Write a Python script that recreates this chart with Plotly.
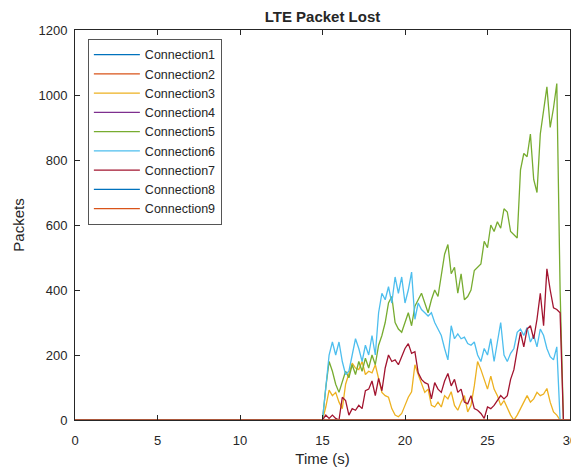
import plotly.graph_objects as go

# time axis: 0 .. 30 s, 0.2 s step
time_s = [round(i * 0.2, 1) for i in range(151)]

# first 15 s all connections show no loss
zeros_before = [0] * 75

# values from t = 15.0 to 29.8 s (75 points) then t = 30.0
conn3_tail = [0, 40, 92, 75, 85, 55, 35, 110, 145, 175,
              160, 155, 180, 140, 150, 145, 170, 130, 85, 75,
              70, 35, 15, 10, 20, 45, 70, 87, 170, 140,
              115, 85, 95, 45, 40, 55, 40, 75, 65, 87,
              45, 30, 55, 75, 25, 45, 105, 180, 155, 125,
              95, 135, 95, 75, 45, 60, 35, 15, 0, 15,
              35, 55, 75, 55, 65, 85, 75, 80, 97, 55,
              25, 15, 0, 0, 0, 0]
conn5_tail = [0, 100, 180, 150, 110, 85, 120, 150, 130, 170,
              140, 180, 150, 190, 160, 200, 170, 230, 260, 300,
              360, 380, 300, 280, 270, 300, 330, 290, 350, 370,
              390, 360, 330, 370, 400, 380, 440, 510, 540, 450,
              470, 390, 450, 370, 380, 400, 460, 470, 480, 550,
              530, 600, 580, 610, 590, 650, 640, 580, 570, 560,
              770, 820, 810, 880, 740, 700, 880, 950, 1025, 900,
              960, 1035, 400, 0, 0, 0]
conn6_tail = [0, 100, 200, 240, 200, 240, 180, 140, 150, 200,
              250, 220, 180, 230, 200, 260, 200, 330, 390, 370,
              410, 360, 440, 390, 440, 360, 400, 455, 310, 360,
              340, 330, 320, 330, 300, 280, 260, 220, 185, 290,
              250, 265, 250, 255, 235, 230, 240, 200, 180, 220,
              200, 250, 180, 240, 300, 200, 180, 205, 220, 270,
              280, 260, 285, 240, 260, 225, 280, 260, 220, 195,
              185, 225, 0, 0, 0, 0]
conn7_tail = [0, 15, 5, 15, 5, 0, 70, 60, 15, 35,
              30, 45, 35, 90, 95, 120, 75, 128, 90, 160,
              200, 180, 185, 170, 195, 220, 235, 205, 210, 145,
              125, 115, 110, 65, 115, 95, 85, 120, 143, 105,
              125, 85, 95, 55, 50, 75, 35, 30, 20, 5,
              40, 35, 45, 60, 75, 65, 75, 125, 155, 215,
              270, 225, 280, 290, 250, 310, 390, 290, 465, 400,
              345, 340, 330, 0, 0, 0]
zero_tail = [0] * 76

series_names = ["Connection1", "Connection2", "Connection3", "Connection4",
                "Connection5", "Connection6", "Connection7", "Connection8",
                "Connection9"]
series_values = [
    zeros_before + zero_tail,
    zeros_before + zero_tail,
    zeros_before + conn3_tail,
    zeros_before + zero_tail,
    zeros_before + conn5_tail,
    zeros_before + conn6_tail,
    zeros_before + conn7_tail,
    zeros_before + zero_tail,
    zeros_before + zero_tail,
]
series_colors = ["#0072BD", "#D95319", "#EDB120", "#7E2F8E", "#77AC30",
                 "#4DBEEE", "#A2142F", "#0072BD", "#D95319"]

x_ticks = [0, 5, 10, 15, 20, 25, 30]
y_ticks = [0, 200, 400, 600, 800, 1000, 1200]

fig = go.Figure()
for name, vals, col in zip(series_names, series_values, series_colors):
    fig.add_trace(go.Scatter(x=time_s, y=vals, mode="lines", name=name,
                             line=dict(color=col, width=1.3)))

axis_common = dict(showline=True, linecolor="#262626", linewidth=1,
                   mirror="ticks", ticks="inside", ticklen=5,
                   tickcolor="#262626", showgrid=False, zeroline=False,
                   automargin=False,
                   tickfont=dict(size=13, color="#262626"))

fig.update_layout(
    width=571, height=465,
    paper_bgcolor="white", plot_bgcolor="white",
    font=dict(family="Arial, Liberation Sans, sans-serif", color="#262626"),
    margin=dict(l=67, r=9, t=22, b=53),
    title=dict(text="<b>LTE Packet Lost</b>", x=0.5, xanchor="center",
               xref="paper", y=0.981, yanchor="middle",
               font=dict(size=15, color="#262626")),
    xaxis=dict(range=[0, 30], tickvals=x_ticks, ticklabelstandoff=8,
               title=dict(text="Time (s)", font=dict(size=15), standoff=6),
               **axis_common),
    yaxis=dict(range=[0, 1200], tickvals=y_ticks, ticklabelstandoff=4,
               title=dict(text="Packets", font=dict(size=15), standoff=10),
               **axis_common),
    legend=dict(x=0.026, y=0.977, xanchor="left", yanchor="top",
                bgcolor="white", bordercolor="#555555", borderwidth=1,
                font=dict(size=12.5, color="#262626"),
                itemwidth=46, entrywidth=95, entrywidthmode="pixels",
                tracegroupgap=0),
    showlegend=True,
)

fig.write_html("out.html")
